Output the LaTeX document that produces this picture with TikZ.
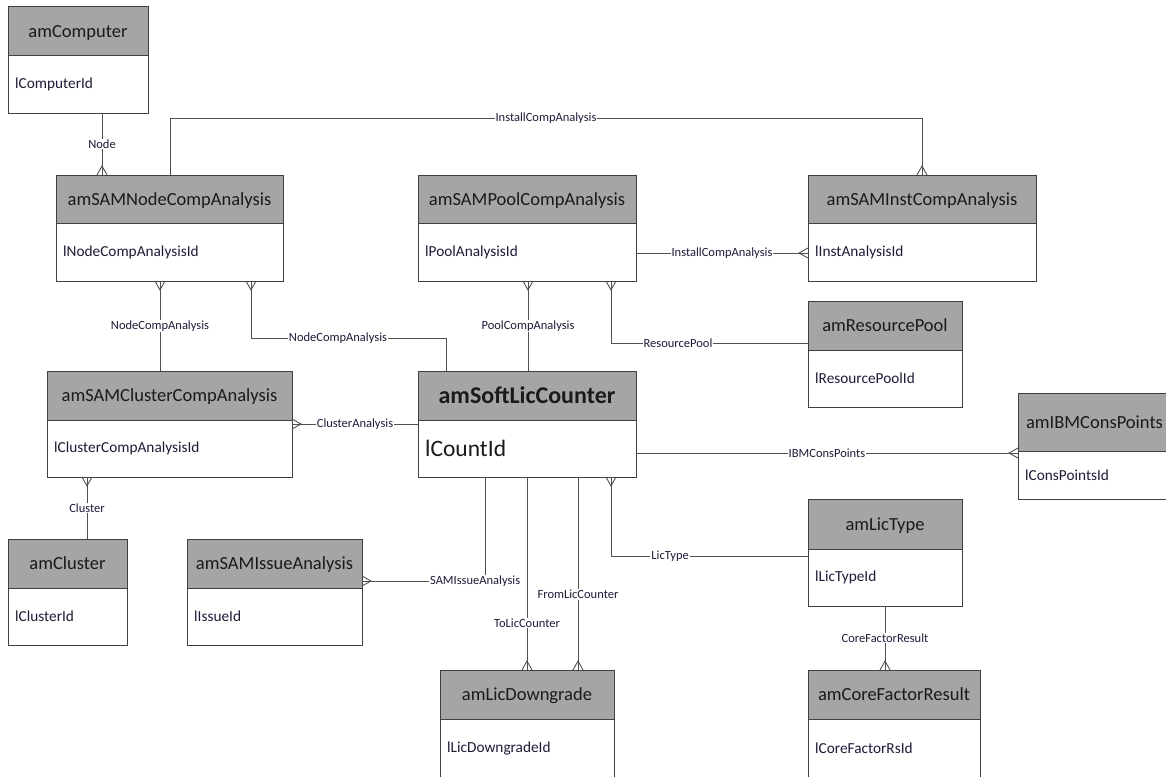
\documentclass[tikz,border=0pt]{standalone}
\usepackage{fontspec}
\setmainfont{Carlito}
\usetikzlibrary{calc,arrows.meta}
\definecolor{hdrgray}{HTML}{A5A5A5}
\definecolor{boxline}{HTML}{404040}
\definecolor{connline}{HTML}{505050}
\definecolor{txtdark}{HTML}{1A1A1A}
\definecolor{txtnavy}{HTML}{1C1C38}

\pgfdeclarearrow{
  name = Crow,
  setup code = {
    \pgfarrowssettipend{0pt}
    \pgfarrowssetlineend{0pt}
    \pgfarrowssetvisualbackend{-9pt}
    \pgfarrowssetbackend{-9pt}
    \pgfarrowshullpoint{0pt}{5pt}
    \pgfarrowshullpoint{0pt}{-5pt}
    \pgfarrowshullpoint{-9pt}{0pt}
  },
  drawing code = {
    \pgfpathmoveto{\pgfqpoint{0pt}{5pt}}
    \pgfpathlineto{\pgfqpoint{-9pt}{0pt}}
    \pgfpathlineto{\pgfqpoint{0pt}{-5pt}}
    \pgfusepathqstroke
  }
}

\newcommand\entity[9][]{%
  \pgfmathsetmacro\enttot{#6+#7}%
  \node[wholebox, minimum width=#5pt, minimum height=\enttot pt, anchor=north west] (#2) at (#3,#4) {};
  \node[hdr#1, minimum width=#5pt, minimum height=#6pt, anchor=north west] (#2h) at (#2.north west) {#8};
  \node[bdy, minimum width=#5pt, minimum height=#7pt, anchor=north west] (#2b) at (#2h.south west) {};
  \node[fld#1, anchor=west] (#2t) at ($(#2b.west)+(7,0)$) {#9};
}

\begin{document}
\begin{tikzpicture}[x=1pt,y=-1pt,
  wholebox/.style={rectangle, inner sep=0pt, outer sep=0pt},
  hdr/.style={rectangle, draw=boxline, line width=1pt, fill=hdrgray, inner sep=0pt, outer sep=0pt,
    text depth=0pt, text=txtdark, font={\fontsize{18.5}{22}\selectfont}},
  hdrbig/.style={hdr, font={\fontsize{24}{28}\selectfont\bfseries}},
  bdy/.style={rectangle, draw=boxline, line width=1pt, fill=white, inner sep=0pt, outer sep=0pt},
  fld/.style={inner sep=0pt, text=txtnavy, font={\fontsize{15.3}{18}\selectfont}},
  fldbig/.style={fld, text=txtdark, font={\fontsize{23.5}{27}\selectfont}},
  conn/.style={draw=connline, line width=0.9pt},
  lbl/.style={fill=white, inner sep=1pt, text=txtnavy, font={\fontsize{12.5}{14}\selectfont}}
]
\useasboundingbox (0,0) rectangle (1166,776);
\fill[white] (0,0) rectangle (1166,776);

% entities
\entity{comp}{8}{7}{140}{49}{57}{amComputer}{lComputerId}
\entity{nc}{56}{175}{227}{48}{58}{amSAMNodeCompAnalysis}{lNodeCompAnalysisId}
\entity{pc}{418}{175}{218}{48}{58}{amSAMPoolCompAnalysis}{lPoolAnalysisId}
\entity{ic}{808}{175}{228}{48}{58}{amSAMInstCompAnalysis}{lInstAnalysisId}
\entity{rp}{808}{301}{154}{49}{57}{amResourcePool}{lResourcePoolId}
\entity{cc}{47}{371}{245}{49}{57}{amSAMClusterCompAnalysis}{lClusterCompAnalysisId}
\entity[big]{slc}{418}{371}{218}{49}{57}{amSoftLicCounter}{lCountId}
\entity{ibm}{1018}{393}{153}{58}{48}{amIBMConsPoints}{lConsPointsId}
\entity{cl}{8}{539}{119}{49}{57}{amCluster}{lClusterId}
\entity{ia}{187}{539}{175}{49}{57}{amSAMIssueAnalysis}{lIssueId}
\entity{lt}{808}{499}{154}{50}{57}{amLicType}{lLicTypeId}
\entity{ld}{440}{670}{174}{49}{58}{amLicDowngrade}{lLicDowngradeId}
\entity{cf}{808}{670}{172}{49}{58}{amCoreFactorResult}{lCoreFactorRsId}

% connectors
\draw[conn,-{Crow}] ($(comp.south west)+(94,0)$) coordinate (n1) -- node[lbl]{Node} (n1 |- nc.north);
\draw[conn,-{Crow}] ($(nc.north west)+(114,0)$) -- ++(0,-57) -| node[lbl,pos=0.25]{InstallCompAnalysis} ($(ic.north west)+(114,0)$);
\draw[conn,-{Crow}] ($(pc.east)+(0,25)$) coordinate (n3) -- node[lbl]{InstallCompAnalysis} (n3 -| ic.west);
\draw[conn,{Crow}-] ($(pc.south west)+(193,0)$) |- node[lbl,pos=0.67]{ResourcePool} ($(rp.west)+(0,-11)$);
\draw[conn,{Crow}-] ($(pc.south west)+(110,0)$) coordinate (n5) -- node[lbl]{PoolCompAnalysis} (n5 |- slc.north);
\draw[conn,{Crow}-] ($(nc.south west)+(195,0)$) -- ++(0,57) -| node[lbl,pos=0.223]{NodeCompAnalysis} ($(slc.north west)+(28,0)$);
\draw[conn,{Crow}-] ($(nc.south west)+(104,0)$) coordinate (n7) -- node[lbl]{NodeCompAnalysis} (n7 |- cc.north);
\draw[conn,{Crow}-] (cc.east) -- node[lbl]{ClusterAnalysis} (slc.west);
\draw[conn,-{Crow}] ($(slc.east)+(0,29)$) coordinate (n9) -- node[lbl]{IBMConsPoints} (n9 -| ibm.west);
\draw[conn,{Crow}-] ($(cc.south west)+(40,0)$) coordinate (n10) -- node[lbl]{Cluster} (n10 |- cl.north);
\draw[conn,{Crow}-] ($(ia.east)+(0,-11)$) -| node[lbl,pos=0.46]{SAMIssueAnalysis} ($(slc.south west)+(67,0)$);
\draw[conn,-{Crow}] ($(slc.south west)+(109,0)$) coordinate (n12) -- node[lbl,pos=0.756]{ToLicCounter} (n12 |- ld.north);
\draw[conn,-{Crow}] ($(slc.south west)+(160,0)$) coordinate (n13) -- node[lbl,pos=0.61]{FromLicCounter} (n13 |- ld.north);
\draw[conn,{Crow}-] ($(slc.south west)+(193,0)$) |- node[lbl,pos=0.65]{LicType} ($(lt.west)+(0,3.5)$);
\draw[conn,-{Crow}] (lt.south) -- node[lbl]{CoreFactorResult} (lt.south |- cf.north);
\end{tikzpicture}
\end{document}
